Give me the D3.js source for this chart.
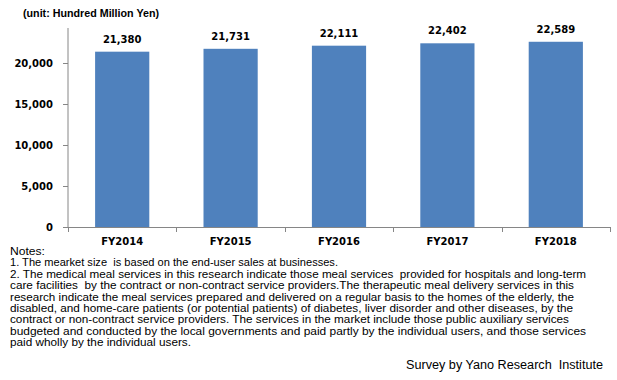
<!DOCTYPE html>
<html>
<head>
<meta charset="utf-8">
<script src="https://cdn.jsdelivr.net/npm/d3@7"></script>
<style>
  html, body { margin: 0; padding: 0; background: #fff; }
  svg { display: block; }
  text { white-space: pre; }
</style>
</head>
<body>
<svg id="chart" width="617" height="380"></svg>
<script>
// ---- data ----
const categories = ["FY2014", "FY2015", "FY2016", "FY2017", "FY2018"];
const values = [21380, 21731, 22111, 22402, 22589];
const yTicks = [0, 5000, 10000, 15000, 20000];
const unitLabel = "(unit: Hundred Million Yen)";
const noteLines = [
  "Notes:",
  "1. The mearket size  is based on the end-user sales at businesses.",
  "2. The medical meal services in this research indicate those meal services  provided for hospitals and long-term",
  "care facilities  by the contract or non-contract service providers.The therapeutic meal delivery services in this",
  "research indicate the meal services prepared and delivered on a regular basis to the homes of the elderly, the",
  "disabled, and home-care patients (or potential patients) of diabetes, liver disorder and other diseases, by the",
  "contract or non-contract service providers. The services in the market include those public auxiliary services",
  "budgeted and conducted by the local governments and paid partly by the individual users, and those services",
  "paid wholly by the individual users."
];
const noteWidths = [35, 328, 576, 564, 564, 563, 559, 576, 181];
const sourceLabel = "Survey by Yano Research  Institute";

// ---- layout ----
const svg = d3.select("#chart");
const plot = { left: 68, right: 610, top: 28, zero: 227, ref: 63 };
const numFont = "'DejaVu Sans', Verdana, sans-serif";
const textFont = "'Liberation Sans', Arial, sans-serif";
const axisColor = "#868686";
const barColor = "#4F81BD";

const x = d3.scaleBand()
  .domain(categories)
  .range([plot.left, plot.right])
  .paddingInner(0.5)
  .paddingOuter(0.25);

const y = d3.scaleLinear()
  .domain([0, 20000])
  .range([plot.zero, plot.ref]);

// bars
svg.append("g").selectAll("rect")
  .data(values)
  .join("rect")
  .attr("x", (d, i) => x(categories[i]))
  .attr("y", d => y(d))
  .attr("width", x.bandwidth())
  .attr("height", d => y(0) - y(d))
  .attr("fill", barColor);

// value labels
svg.append("g").selectAll("text")
  .data(values)
  .join("text")
  .attr("x", (d, i) => x(categories[i]) + x.bandwidth() / 2)
  .attr("y", d => y(d) - 9)
  .attr("text-anchor", "middle")
  .attr("font-family", numFont)
  .attr("font-weight", "bold")
  .attr("font-size", 10)
  .attr("fill", "#000")
  .text(d => d3.format(",")(d));

// y axis
const yAxis = svg.append("g")
  .attr("transform", `translate(${plot.left},0)`)
  .call(d3.axisLeft(y).tickValues(yTicks).tickFormat(d3.format(",")).tickSize(5).tickSizeOuter(0).tickPadding(10));
yAxis.select(".domain").remove();
yAxis.append("line")
  .attr("x1", 0).attr("x2", 0)
  .attr("y1", y(0)).attr("y2", plot.top)
  .attr("stroke", axisColor);
yAxis.selectAll(".tick line").attr("stroke", axisColor);
yAxis.selectAll(".tick text")
  .attr("font-family", numFont)
  .attr("font-weight", "bold")
  .attr("font-size", 10)
  .attr("fill", "#000");

// x axis
const xAxis = svg.append("g")
  .attr("transform", `translate(0,${y(0)})`)
  .call(d3.axisBottom(x).tickSize(0).tickPadding(11));
xAxis.select(".domain").attr("stroke", axisColor).attr("d", `M${plot.left},0.5H${plot.right}`);
xAxis.selectAll(".tick text")
  .attr("font-family", numFont)
  .attr("font-weight", "bold")
  .attr("font-size", 10)
  .attr("fill", "#000");
const bounds = d3.range(categories.length + 1).map(i => plot.left + i * x.step());
xAxis.selectAll(".bound")
  .data(bounds)
  .join("line")
  .attr("class", "bound")
  .attr("x1", d => Math.round(d) + 0.5).attr("x2", d => Math.round(d) + 0.5)
  .attr("y1", 0).attr("y2", 5)
  .attr("stroke", axisColor);

// unit label
svg.append("text")
  .attr("x", 23).attr("y", 17)
  .attr("font-family", textFont)
  .attr("font-weight", "bold")
  .attr("font-size", 11)
  .attr("textLength", 136)
  .attr("lengthAdjust", "spacingAndGlyphs")
  .attr("fill", "#000")
  .text(unitLabel);

// notes
svg.append("g").selectAll("text")
  .data(noteLines)
  .join("text")
  .attr("x", 10)
  .attr("y", (d, i) => 255 + i * 11.4)
  .attr("font-family", textFont)
  .attr("font-size", 11.5)
  .attr("textLength", (d, i) => noteWidths[i])
  .attr("lengthAdjust", "spacingAndGlyphs")
  .attr("fill", "#000")
  .text(d => d);

// source
svg.append("text")
  .attr("x", 406).attr("y", 369)
  .attr("font-family", textFont)
  .attr("font-size", 12)
  .attr("textLength", 197)
  .attr("lengthAdjust", "spacingAndGlyphs")
  .attr("fill", "#000")
  .text(sourceLabel);
</script>
</body>
</html>
